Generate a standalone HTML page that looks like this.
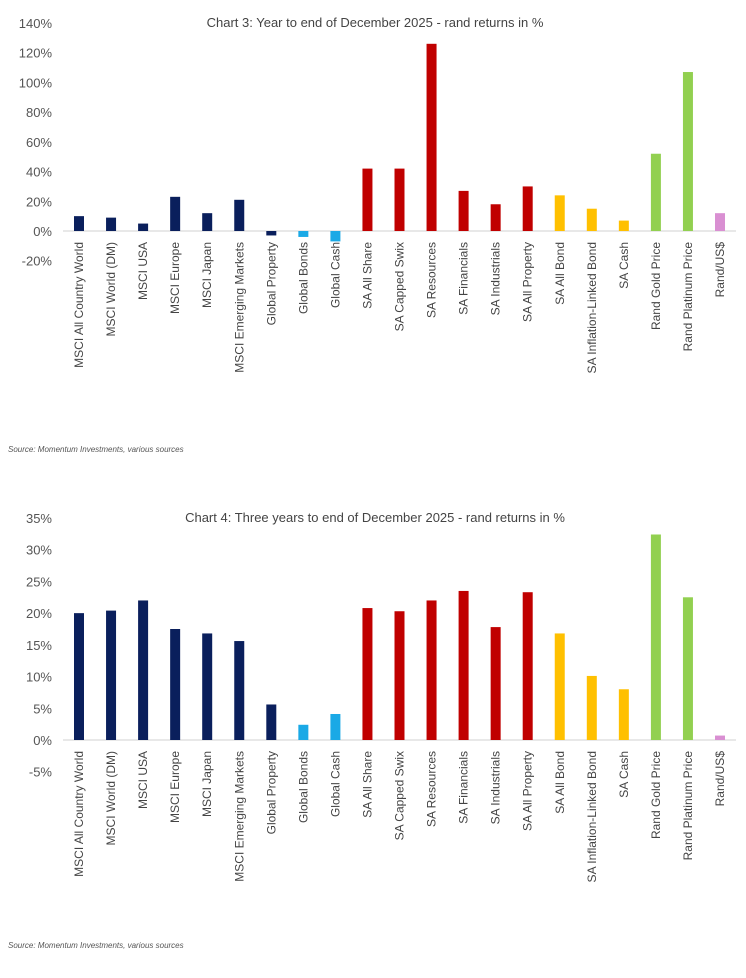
<!DOCTYPE html>
<html><head><meta charset="utf-8"><style>
body{margin:0;background:#fff;}
svg{display:block;font-family:"Liberation Sans",sans-serif;}
</style></head><body>
<svg id="s" width="746" height="978"></svg>
<script>
const categories=["MSCI All Country World","MSCI World (DM)","MSCI USA","MSCI Europe","MSCI Japan","MSCI Emerging Markets","Global Property","Global Bonds","Global Cash","SA All Share","SA Capped Swix","SA Resources","SA Financials","SA Industrials","SA All Property","SA All Bond","SA Inflation-Linked Bond","SA Cash","Rand Gold Price","Rand Platinum Price","Rand/US$"];
const groups=["g","g","g","g","g","g","g","b","b","r","r","r","r","r","r","y","y","y","n","n","p"];
const values1=[10,9,5,23,12,21,-3,-4,-7,42,42,126,27,18,30,24,15,7,52,107,12];
const values2=[20,20.4,22,17.5,16.8,15.6,5.6,2.4,4.1,20.8,20.3,22,23.5,17.8,23.3,16.8,10.1,8,32.4,22.5,0.7];
const ticks1=[140,120,100,80,60,40,20,0,-20];
const ticks2=[35,30,25,20,15,10,5,0,-5];
const colors={g:"#0a1f5c",b:"#1aa9e6",r:"#c00000",y:"#ffc000",n:"#92d050",p:"#d98fd2"};
const NS="http://www.w3.org/2000/svg";
const svg=document.getElementById('s');
function mk(t,a,txt){const e=document.createElementNS(NS,t);for(const k in a)e.setAttribute(k,a[k]);if(txt!==undefined)e.textContent=txt;svg.appendChild(e);return e;}
function chart(id,title,vals,ticks,zeroY,topY,topV,titleY,labelY,srcY){
  const sc=(zeroY-topY)/topV;
  const y=v=>zeroY-v*sc;
  const x=i=>79+i*32.05;
  let t=mk('text',{x:375,y:titleY,'text-anchor':'middle','font-size':13,fill:'#444'},title);
  
  ticks.forEach(v=>{const e=mk('text',{x:52,y:y(v)+5,'text-anchor':'end','font-size':13,fill:'#555'},v+'%');
    });
  const ax=mk('line',{x1:63,x2:736,y1:zeroY,y2:zeroY,stroke:'#d0d0d0','stroke-width':1});
  
  vals.forEach((v,i)=>{
    const r=mk('rect',{x:x(i)-5,y:Math.min(y(v),zeroY),width:10,height:Math.abs(y(v)-zeroY),fill:colors[groups[i]]});
    
    const l=mk('text',{transform:`translate(${x(i)+4},${labelY}) rotate(-90)`,'text-anchor':'end','font-size':12,fill:'#444'},categories[i]);
    
  });
  const s=mk('text',{x:8,y:srcY,'font-size':8,'font-style':'italic',fill:'#555'},'Source: Momentum Investments, various sources');
  
}
chart('chart3','Chart 3: Year to end of December 2025 - rand returns in %',values1,ticks1,231,23,140,27,242,452);
chart('chart4','Chart 4: Three years to end of December 2025 - rand returns in %',values2,ticks2,740,518,35,522,751,948);
</script>
</body></html>
